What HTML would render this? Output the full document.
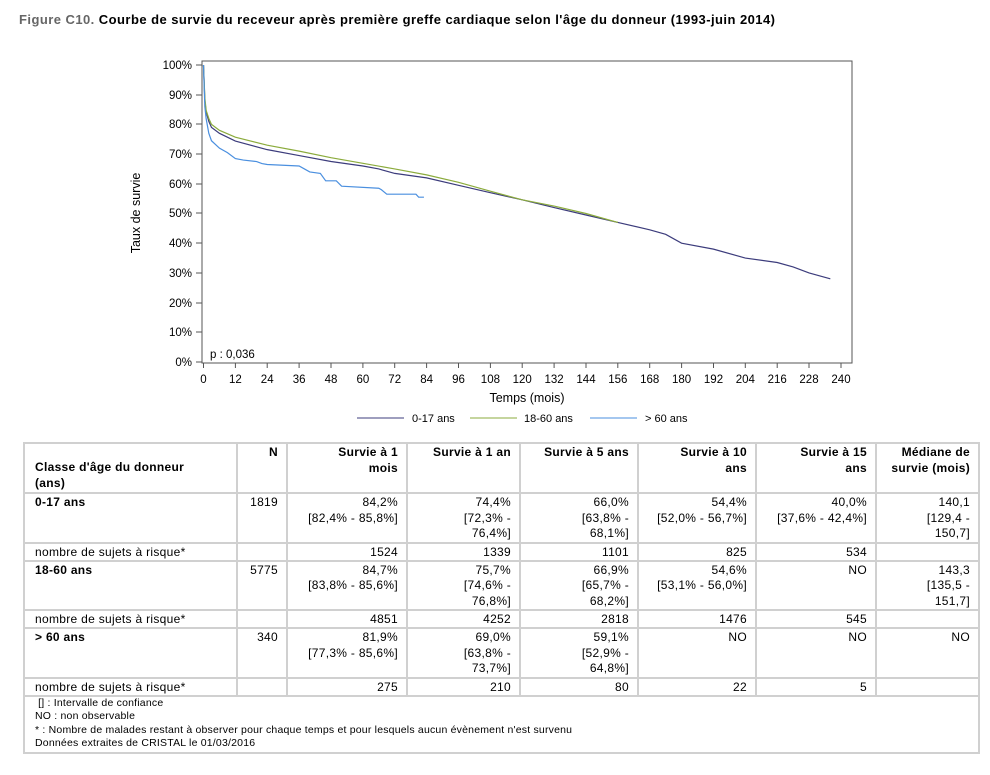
<!DOCTYPE html><html><head><meta charset="utf-8"><style>
body{margin:0;width:990px;height:775px;background:#fff;font-family:"Liberation Sans",Arial,sans-serif;position:relative;overflow:hidden}
.t{position:absolute;left:19px;top:12px;font-size:13px;letter-spacing:0.45px;font-weight:bold;color:#000}
table{position:absolute;left:23px;top:442px;border-collapse:collapse;font-size:12px;letter-spacing:0.3px;width:957px;table-layout:fixed}
td{border:2px solid #d0d0d0;vertical-align:top;text-align:right;padding:1px 8px 0 10px;line-height:15.5px;overflow:hidden;white-space:nowrap}
td.l{text-align:left}
tr.d td{height:46px}
tr.r td{height:16px;line-height:16px;padding-top:0}
.b{font-weight:bold}
.foot{text-align:left;font-size:10.5px;letter-spacing:0.2px;line-height:13.5px;padding:0 10px 1px 10px}
</style></head><body>
<div class="t"><span style="color:#666">Figure C10.</span> Courbe de survie du receveur après première greffe cardiaque selon l'âge du donneur (1993-juin 2014)</div>
<svg width="990" height="440" style="position:absolute;left:0;top:0" font-family="Liberation Sans, Arial, sans-serif" font-size="11.5" fill="#000">
<rect x="202" y="61" width="650" height="302" fill="none" stroke="#555" stroke-width="1"/>
<g text-anchor="end">
<text x="192" y="69">100%</text><text x="192" y="99">90%</text><text x="192" y="128">80%</text><text x="192" y="158">70%</text><text x="192" y="188">60%</text><text x="192" y="217">50%</text><text x="192" y="247">40%</text><text x="192" y="277">30%</text><text x="192" y="307">20%</text><text x="192" y="336">10%</text><text x="192" y="366">0%</text>
</g>
<g stroke="#555"><path d="M196 65h6M196 95h6M196 124h6M196 154h6M196 184h6M196 213h6M196 243h6M196 273h6M196 303h6M196 332h6M196 362h6"/>
<path d="M203.5 363v5M235.4 363v5M267.2 363v5M299.1 363v5M331 363v5M362.9 363v5M394.7 363v5M426.6 363v5M458.5 363v5M490.4 363v5M522.2 363v5M554.1 363v5M586 363v5M617.8 363v5M649.7 363v5M681.6 363v5M713.5 363v5M745.3 363v5M777.2 363v5M809 363v5M841 363v5"/></g>
<g text-anchor="middle">
<text x="203.5" y="383">0</text><text x="235.4" y="383">12</text><text x="267.2" y="383">24</text><text x="299.1" y="383">36</text><text x="331" y="383">48</text><text x="362.9" y="383">60</text><text x="394.7" y="383">72</text><text x="426.6" y="383">84</text><text x="458.5" y="383">96</text><text x="490.4" y="383">108</text><text x="522.2" y="383">120</text><text x="554.1" y="383">132</text><text x="586" y="383">144</text><text x="617.8" y="383">156</text><text x="649.7" y="383">168</text><text x="681.6" y="383">180</text><text x="713.5" y="383">192</text><text x="745.3" y="383">204</text><text x="777.2" y="383">216</text><text x="809" y="383">228</text><text x="841" y="383">240</text>
<text x="527" y="402" font-size="12.5">Temps (mois)</text>
</g>
<text transform="translate(140,213) rotate(-90)" text-anchor="middle" font-size="12.5">Taux de survie</text>
<text x="210" y="358">p : 0,036</text>
<g transform="translate(203.5,362) scale(2.656,-2.97)" fill="none" stroke-width="1.2">
<polyline vector-effect="non-scaling-stroke" stroke="#3c3c7c" points="0,100 0.5,88 1,84.2 2,81 3,79 6,77 12,74.4 24,71.5 36,69.5 48,67.5 60,66 66,65 72,63.5 84,62 96,59.5 108,57 120,54.6 132,52 144,49.5 156,47 168,44.5 174,43 180,40 192,38 204,35 216,33.5 222,32 228,30 236,28"/>
<polyline vector-effect="non-scaling-stroke" stroke="#8bab3c" points="0,100 0.5,89 1,84.7 2,82 3,80 6,78 12,75.7 24,73 36,71 48,68.8 60,66.9 72,65 84,63 96,60.5 108,57.5 120,54.6 132,52.5 144,50 156,47"/>
<polyline vector-effect="non-scaling-stroke" stroke="#4a8fdf" points="0,100 0.5,86 1,81.9 2,77 3,74.5 6,72 9,70.5 12,68.5 15,68 20,67.5 22,66.8 24,66.5 36,66 38,65 40,64 44,63.5 46,61 50,61 52,59.2 66,58.5 67,58 69,56.5 80,56.5 81,55.5 83,55.5"/>
</g>
<g font-size="11">
<line x1="357" y1="418" x2="404" y2="418" stroke="#3c3c7c"/><text x="412" y="422">0-17 ans</text>
<line x1="470" y1="418" x2="517" y2="418" stroke="#8bab3c"/><text x="524" y="422">18-60 ans</text>
<line x1="590" y1="418" x2="637" y2="418" stroke="#4a8fdf"/><text x="645" y="422">&gt; 60 ans</text>
</g>
</svg>
<table>
<colgroup><col style="width:213px"><col style="width:50px"><col style="width:120px"><col style="width:113px"><col style="width:118px"><col style="width:118px"><col style="width:120px"><col></colgroup>
<tr class="d"><td class="l b" style="vertical-align:bottom;padding-bottom:1px">Classe d'âge du donneur<br>(ans)</td><td class="b">N</td><td class="b">Survie à 1<br>mois</td><td class="b">Survie à 1 an</td><td class="b">Survie à 5 ans</td><td class="b">Survie à 10<br>ans</td><td class="b">Survie à 15<br>ans</td><td class="b">Médiane de<br>survie (mois)</td></tr>
<tr class="d"><td class="l b">0-17 ans</td><td>1819</td><td>84,2%<br>[82,4% - 85,8%]</td><td>74,4%<br>[72,3% -<br>76,4%]</td><td>66,0%<br>[63,8% -<br>68,1%]</td><td>54,4%<br>[52,0% - 56,7%]</td><td>40,0%<br>[37,6% - 42,4%]</td><td>140,1<br>[129,4 -<br>150,7]</td></tr>
<tr class="r"><td class="l">nombre de sujets à risque*</td><td></td><td>1524</td><td>1339</td><td>1101</td><td>825</td><td>534</td><td></td></tr>
<tr class="d"><td class="l b">18-60 ans</td><td>5775</td><td>84,7%<br>[83,8% - 85,6%]</td><td>75,7%<br>[74,6% -<br>76,8%]</td><td>66,9%<br>[65,7% -<br>68,2%]</td><td>54,6%<br>[53,1% - 56,0%]</td><td>NO</td><td>143,3<br>[135,5 -<br>151,7]</td></tr>
<tr class="r"><td class="l">nombre de sujets à risque*</td><td></td><td>4851</td><td>4252</td><td>2818</td><td>1476</td><td>545</td><td></td></tr>
<tr class="d"><td class="l b">&gt; 60 ans</td><td>340</td><td>81,9%<br>[77,3% - 85,6%]</td><td>69,0%<br>[63,8% -<br>73,7%]</td><td>59,1%<br>[52,9% -<br>64,8%]</td><td>NO</td><td>NO</td><td>NO</td></tr>
<tr class="r"><td class="l">nombre de sujets à risque*</td><td></td><td>275</td><td>210</td><td>80</td><td>22</td><td>5</td><td></td></tr>
<tr><td colspan="8" class="foot">&nbsp;[] : Intervalle de confiance<br>NO : non observable<br>* : Nombre de malades restant à observer pour chaque temps et pour lesquels aucun évènement n'est survenu<br>Données extraites de CRISTAL le 01/03/2016</td></tr>
</table>
</body></html>
